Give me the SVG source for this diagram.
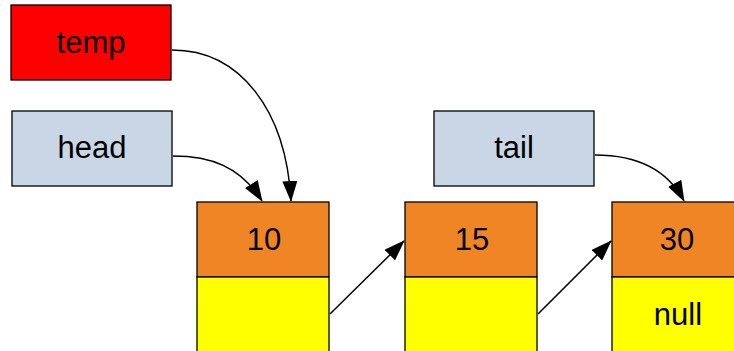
<svg xmlns="http://www.w3.org/2000/svg" width="734" height="351" viewBox="0 0 734 351">
  <defs>
    <marker id="arrow" viewBox="0 0 21 15" refX="20" refY="7.5" markerWidth="21" markerHeight="15" markerUnits="userSpaceOnUse" orient="auto">
      <path d="M0,0 L21,7.5 L0,15 Z" fill="#000"/>
    </marker>
  </defs>
  <style>
    .box { stroke: #000; stroke-width: 1.3; }
    .ptr { fill: #c9d6e5; }
    .hot { fill: #ff0000; }
    .val { fill: #f08526; }
    .nxt { fill: #ffff00; }
    text { font-family: "Liberation Sans", Arial, sans-serif; font-size: 31px; fill: #000; text-anchor: middle; dominant-baseline: central; }
    .edge { fill: none; stroke: #000; stroke-width: 1.5; marker-end: url(#arrow); }
  </style>

  <g id="temp">
    <rect class="box hot" x="11" y="5" width="160" height="75"/>
    <text x="91" y="42">temp</text>
  </g>
  <g id="head">
    <rect class="box ptr" x="12" y="111" width="160" height="75"/>
    <text x="92" y="147">head</text>
  </g>
  <g id="tail">
    <rect class="box ptr" x="434" y="111" width="160" height="75"/>
    <text x="514" y="147">tail</text>
  </g>

  <g id="node10">
    <rect class="box val" x="197" y="202" width="132" height="75"/>
    <rect class="box nxt" x="197" y="277" width="132" height="90"/>
    <text x="264" y="239">10</text>
  </g>
  <g id="node15">
    <rect class="box val" x="405" y="202" width="132" height="75"/>
    <rect class="box nxt" x="405" y="277" width="132" height="90"/>
    <text x="472" y="239">15</text>
  </g>
  <g id="node30">
    <rect class="box val" x="612" y="202" width="132" height="75"/>
    <rect class="box nxt" x="612" y="277" width="132" height="90"/>
    <text x="677" y="239">30</text>
    <text x="678" y="314">null</text>
  </g>

  <g id="connectors">
    <path class="edge" d="M172,50 C240,50 286,110 291,201"/>
    <path class="edge" d="M173,156 C210,156 240,166 262,201"/>
    <path class="edge" d="M595,155 C630,155 665,165 684,201"/>
    <path class="edge" d="M330,314 L404,241"/>
    <path class="edge" d="M538,314 L611,241"/>
  </g>
</svg>
